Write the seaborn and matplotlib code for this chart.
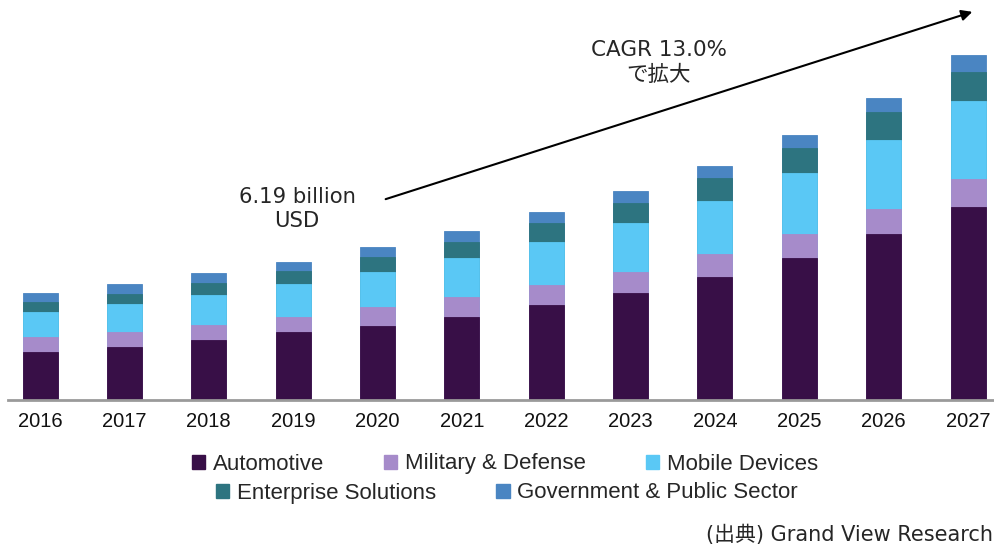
import numpy as np
import pandas as pd
import matplotlib
matplotlib.use("Agg")
import matplotlib.pyplot as plt
import seaborn as sns
from matplotlib.patches import Patch

# Market size by application, USD billion
years = ["2016", "2017", "2018", "2019", "2020", "2021",
         "2022", "2023", "2024", "2025", "2026", "2027"]
automotive = [2.15, 2.37, 2.67, 3.02, 3.32, 3.72, 4.24, 4.80, 5.49, 6.34, 7.43, 8.66]
military = [0.65, 0.67, 0.67, 0.70, 0.83, 0.90, 0.90, 0.94, 1.03, 1.09, 1.11, 1.26]
mobile = [1.12, 1.24, 1.35, 1.47, 1.60, 1.72, 1.95, 2.21, 2.42, 2.76, 3.14, 3.50]
enterprise = [0.45, 0.48, 0.55, 0.58, 0.65, 0.75, 0.85, 0.86, 1.00, 1.09, 1.22, 1.31]
government = [0.40, 0.45, 0.45, 0.42, 0.45, 0.48, 0.47, 0.54, 0.55, 0.61, 0.64, 0.77]

segments = ["Automotive", "Military & Defense", "Mobile Devices",
            "Enterprise Solutions", "Government & Public Sector"]
colors = ["#380f47", "#a68bca", "#5ac8f5", "#2d7480", "#4a85c2"]

sns.set_theme(style="white")
plt.rcParams["font.family"] = ["Liberation Sans", "DejaVu Sans"]
jp = ["DejaVu Sans", "Noto Sans CJK JP"]

df = pd.DataFrame({"year": years, "Automotive": automotive,
                   "Military & Defense": military, "Mobile Devices": mobile,
                   "Enterprise Solutions": enterprise,
                   "Government & Public Sector": government})
cum = df[segments].cumsum(axis=1)

W, H = 995, 546
fig = plt.figure(figsize=(W / 100, H / 100), dpi=100)
ax = fig.add_axes([8 / W, 1 - 399.5 / H, 987 / W, 399.5 / H])

# stacked bars: draw cumulative totals from the top segment down
for seg, col in reversed(list(zip(segments, colors))):
    sns.barplot(x=df["year"], y=cum[seg], color=col, width=0.415,
                saturation=1, ax=ax, edgecolor=col, linewidth=0.6)

ax.set_xlim(-0.38, 11.32)
ax.set_ylim(0, 17.95)
ax.set_xlabel("")
ax.set_ylabel("")
ax.set_yticks([])
for s in ["top", "right", "left"]:
    ax.spines[s].set_visible(False)
ax.spines["bottom"].set_color("#9a9a9a")
ax.spines["bottom"].set_linewidth(2)
ax.tick_params(axis="x", length=0, pad=9, labelsize=14.5, colors="#111111")

# legend in two centred rows
h = [Patch(facecolor=c, edgecolor=c) for c in colors]
kw = dict(frameon=False, fontsize=16, handlelength=0.6, handleheight=0.6,
          handletextpad=0.35, columnspacing=2.7, borderpad=0, loc="center")
leg1 = fig.legend(h[:3], segments[:3], ncol=3,
                  bbox_to_anchor=(505 / W, 1 - 464 / H), **kw)
leg2 = fig.legend(h[3:], segments[3:], ncol=2,
                  bbox_to_anchor=(507 / W, 1 - 493 / H), **kw)

# growth arrow and annotations
fig.add_artist(matplotlib.patches.FancyArrowPatch(
    (383 / W, 1 - 200 / H), (975 / W, 1 - 11 / H),
    transform=fig.transFigure, arrowstyle="-|>", mutation_scale=16,
    color="black", linewidth=1.5))
fig.text(297 / W, 1 - 197 / H, "6.19 billion", ha="center", va="center",
         fontsize=15.2, family=jp)
fig.text(297 / W, 1 - 221 / H, "USD", ha="center", va="center",
         fontsize=15.2, family=jp)
fig.text(659 / W, 1 - 50 / H, "CAGR 13.0%", ha="center", va="center",
         fontsize=15.5, family=jp)
fig.text(659 / W, 1 - 75 / H, "で拡大", ha="center", va="center",
         fontsize=15.5, family=jp)
fig.text(993 / W, 1 - 535 / H, "(出典) Grand View Research", ha="right",
         va="center", fontsize=15, family=jp)

fig.savefig("out.png", dpi=100)
